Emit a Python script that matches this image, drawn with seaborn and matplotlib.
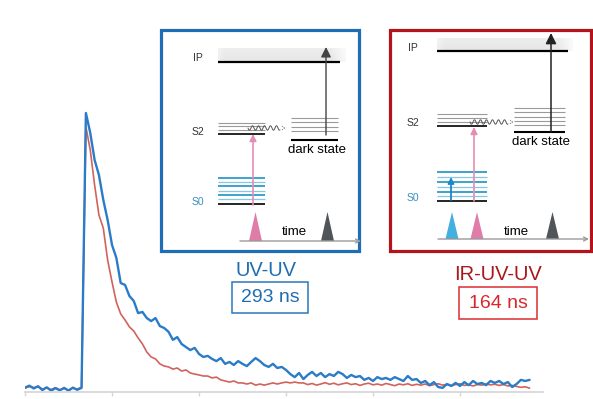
import numpy as np
import pandas as pd
import matplotlib
matplotlib.use("Agg")
import matplotlib.pyplot as plt
import seaborn as sns
from matplotlib.patches import Rectangle, Polygon

# time axis of the transients (ns), one sample every 25 ns
time_ns = np.arange(0, 2925, 25)
tick_ns = [0, 500, 1000, 1500, 2000, 2500]

# ion signal, normalised to the UV-UV maximum (%)
uv_uv = [0.5, 1.2, 0.2, 1.0, -0.4, 0.6, -0.6, 0.3, -0.5, 0.4,
         -0.6, 0.5, -0.3, 0.4,
         100, 92.8, 83, 77.5, 68.5, 61.2, 52.2, 47.5, 38.4, 37.7,
         33.7, 31.9, 27.5, 27.9, 25.7, 24.6, 25.7, 22.8, 22.1, 20.7,
         17.8, 18.8, 16.3, 15.2, 14.1, 14.9, 12.7, 11.6, 12.0, 10.9,
         10.1, 11.2, 9.1, 9.8, 8.7, 10.1, 9.1, 8.3, 9.8, 11.2,
         10.1, 8.7, 8.0, 9.1, 7.6, 8.0, 6.9, 5.4, 4.3, 5.8,
         3.6, 5.1, 6.2, 4.7, 5.8, 4.3, 5.4, 4.7, 6.2, 5.4,
         4.0, 5.1, 4.3, 4.7, 3.3, 4.0, 2.9, 4.3, 3.6, 4.0,
         3.3, 4.3, 3.6, 2.9, 4.7, 3.3, 3.6, 2.2, 2.9, 1.4,
         2.5, 0.7, 0.4, 1.8, 1.1, 2.2, 1.1, 2.5, 1.4, 2.9,
         1.8, 2.2, 1.4, 2.9, 2.2, 2.9, 1.8, 2.5, 0.7, 1.8,
         3.3, 2.9, 3.3]
ir_uv_uv = [0.3, 0.9, 0.5, 0.8, 0.0, 0.4, -0.2, 0.5, -0.3, 0.2,
            -0.4, 0.3, 0.0, 0.6,
            95, 86.6, 73.9, 63, 58.3, 46.7, 38.8, 31.5, 27.2, 25,
            22.5, 21, 18.5, 16.3, 13.4, 11.6, 10.9, 9.1, 8.3, 8.0,
            7.2, 7.6, 6.5, 6.9, 5.8, 5.4, 5.1, 4.7, 4.7, 4.0,
            4.3, 3.3, 2.9, 2.5, 2.9, 2.2, 2.2, 1.8, 2.2, 1.4,
            1.8, 1.4, 1.8, 2.2, 1.8, 2.2, 2.5, 2.2, 2.5, 2.2,
            2.2, 1.6, 2.0, 1.4, 1.8, 2.3, 1.7, 2.1, 1.5, 1.9,
            2.2, 1.6, 1.9, 1.3, 1.8, 2.1, 1.5, 1.8, 1.4, 2.0,
            1.6, 1.2, 1.8, 1.5, 1.9, 1.3, 1.7, 1.4, 1.8, 1.2,
            1.6, 1.9, 1.4, 1.7, 1.2, 1.6, 1.9, 1.3, 1.5, 1.1,
            1.6, 1.4, 1.8, 1.5, 1.7, 1.3, 1.6, 1.1, 1.3, 0.9,
            0.6, 0.8, 0.3]

labels = ["UV-UV", "IR-UV-UV"]
lifetimes = ["293 ns", "164 ns"]

df = pd.DataFrame({
    "time": np.concatenate([time_ns, time_ns]),
    "signal": uv_uv + ir_uv_uv,
    "trace": [labels[0]] * len(time_ns) + [labels[1]] * len(time_ns),
})

sns.set_theme(style="white")
plt.rcParams["font.family"] = ["Liberation Sans", "DejaVu Sans"]

fig = plt.figure(figsize=(5.93, 3.99), dpi=100)

# ---- decay traces
ax = fig.add_axes([25 / 593, 7 / 399, 518 / 593, 362 / 399])
sns.lineplot(data=df, x="time", y="signal", hue="trace",
             hue_order=[labels[1], labels[0]],
             palette={labels[0]: "#2a7bc8", labels[1]: "#d2625c"},
             legend=False, ax=ax)
ax.lines[0].set_linewidth(1.2)
ax.lines[1].set_linewidth(1.7)
ax.set_xlim(0, 2977)
ax.set_ylim(-1.09, 130.07)
ax.set_xticks(tick_ns)
ax.set_xticklabels([])
ax.set_yticks([])
ax.set_xlabel("")
ax.set_ylabel("")
ax.tick_params(axis="x", bottom=True, length=3, width=1, color="#d6d6d6")
sns.despine(ax=ax, left=True)
ax.spines["bottom"].set_color("#d6d6d6")
ax.patch.set_alpha(0)

# ---- level diagrams (drawn in figure pixels)
ov = fig.add_axes([0, 0, 1, 1], zorder=3)
ov.patch.set_alpha(0)

grey = "#9a9a9a"
s0_cols = ["#2f9cc8", "#86c6e0"]


def line(x0, x1, y, c, lw):
    ov.plot([x0, x1], [y, y], color=c, lw=lw, solid_capstyle="butt")


def arrow(x, y0, y1, c, lw=1.0, ms=11):
    ov.annotate("", xy=(x, y1), xytext=(x, y0),
                arrowprops=dict(arrowstyle="-|>", color=c, lw=lw,
                                mutation_scale=ms, shrinkA=0, shrinkB=0))


def pulse(xc, ytop, ybase, c):
    ov.add_patch(Polygon([(xc - 6.5, ybase), (xc, ytop), (xc + 6.5, ybase)],
                         closed=True, fc=c, ec="none"))


def wave(x0, x1, y):
    xs = np.linspace(x0, x1, 120)
    ov.plot(xs, y + 2.2 * np.sin((xs - x0) / 3.0 * np.pi), color="#555", lw=0.7)
    ov.plot([x1 + 2, x1 + 5, x1 + 2], [y - 1.8, y, y + 1.8], color="#777",
            lw=0.7, ls=(0, (1, 1)))


def band(x0, x1, ytop, ybot):
    # light grey continuum above the ionisation potential
    v = np.linspace(0.905, 0.93, 16)[:, None]
    h = np.ones(40)[None, :]
    h[0, -5:] = np.linspace(1, 0.3, 5)
    h[0, :2] = [0.7, 0.9]
    shade = 1 - (1 - v) * h
    img = np.dstack([shade, shade, shade])
    ov.imshow(img, extent=(x0, x1, ybot, ytop), origin="lower", aspect="auto",
              zorder=1, interpolation="bilinear")


# boxes
ov.add_patch(Rectangle((161, 30), 198, 221, fc="white", ec="#1f6db2", lw=2.3, zorder=0.5))
ov.add_patch(Rectangle((390, 30), 201, 221, fc="white", ec="#b3141c", lw=2.3, zorder=0.5))

# UV-UV panel
band(218, 346, 48, 62)
line(218, 340, 62, "black", 1.6)
arrow(326, 135, 47, "#444", 1.0, 15)
for y in [123, 126, 130]:
    line(218, 265, y, grey, 0.8)
line(218, 265, 134, "black", 1.2)
for y in [118, 122, 127, 131]:
    line(291, 338, y, grey, 0.8)
line(291, 338, 140, "black", 1.5)
wave(248, 280, 128)
for i, y in enumerate([178, 182, 186, 191, 195, 199]):
    line(218, 265, y, s0_cols[i % 2], 1.3 if i % 2 == 0 else 0.9)
line(218, 265, 204, "black", 1.2)
arrow(253, 205, 134, "#e58db4", 1.2, 10)
pulse(255.5, 212, 241, "#e07ca9")
pulse(327.5, 212, 241, "#4f5559")
ov.annotate("", xy=(361, 241), xytext=(240, 241),
            arrowprops=dict(arrowstyle="->", color="#9a9a9a", lw=1,
                            mutation_scale=7, shrinkA=0, shrinkB=0))
ov.text(198, 58, "IP", fontsize=7.5, color="#333", ha="center", va="center")
ov.text(198, 132, "S2", fontsize=7.5, color="#333", ha="center", va="center")
ov.text(198, 202, "S0", fontsize=7.5, color="#3a8fc0", ha="center", va="center")
ov.text(317, 150, "dark state", fontsize=9.5, color="black", ha="center", va="center")
ov.text(294, 232, "time", fontsize=9.5, color="black", ha="center", va="center")

# IR-UV-UV panel
band(437, 573, 38, 51)
line(437, 568, 51, "black", 1.6)
arrow(551, 132, 33, "#222", 1.1, 16)
for y in [114, 118, 122]:
    line(437, 487, y, grey, 0.8)
line(437, 487, 126, "black", 1.2)
for y in [108, 112, 117, 121, 125]:
    line(514, 565, y, grey, 0.8)
line(514, 565, 132, "black", 1.5)
wave(470, 508, 122)
for i, y in enumerate([172, 177, 182, 187, 192, 196]):
    line(437, 487, y, s0_cols[i % 2], 1.3 if i % 2 == 0 else 0.9)
line(437, 487, 201, "black", 1.2)
arrow(451, 200, 177, "#1f86c8", 1.3, 9)
arrow(474, 201, 127, "#e58db4", 1.2, 10)
pulse(452, 212, 239, "#45b0e0")
pulse(477, 212, 239, "#e07ca9")
pulse(552.5, 212, 239, "#4f5559")
ov.annotate("", xy=(589, 239), xytext=(438, 239),
            arrowprops=dict(arrowstyle="->", color="#9a9a9a", lw=1,
                            mutation_scale=7, shrinkA=0, shrinkB=0))
ov.text(413, 48, "IP", fontsize=7.5, color="#333", ha="center", va="center")
ov.text(413, 123, "S2", fontsize=7.5, color="#333", ha="center", va="center")
ov.text(413, 198, "S0", fontsize=7.5, color="#3a8fc0", ha="center", va="center")
ov.text(541, 142, "dark state", fontsize=9.5, color="black", ha="center", va="center")
ov.text(516, 232, "time", fontsize=9.5, color="black", ha="center", va="center")

# experiment names and lifetimes
ov.text(266, 270, labels[0], fontsize=14.5, color="#1f6db2", ha="center", va="center")
ov.add_patch(Rectangle((232, 282), 76, 31, fc="none", ec="#2a78b8", lw=1.1))
ov.text(270, 298, lifetimes[0], fontsize=14, color="#1f6db2", ha="center", va="center")

ov.text(498, 274, labels[1], fontsize=14.5, color="#a8181c", ha="center", va="center")
ov.add_patch(Rectangle((459, 287), 78, 32, fc="none", ec="#dc2a30", lw=1.1))
ov.text(498, 303, lifetimes[1], fontsize=14, color="#d9262c", ha="center", va="center")

ov.set_xlim(0, 593)
ov.set_ylim(399, 0)
ov.axis("off")

fig.savefig("out.png", dpi=100)
